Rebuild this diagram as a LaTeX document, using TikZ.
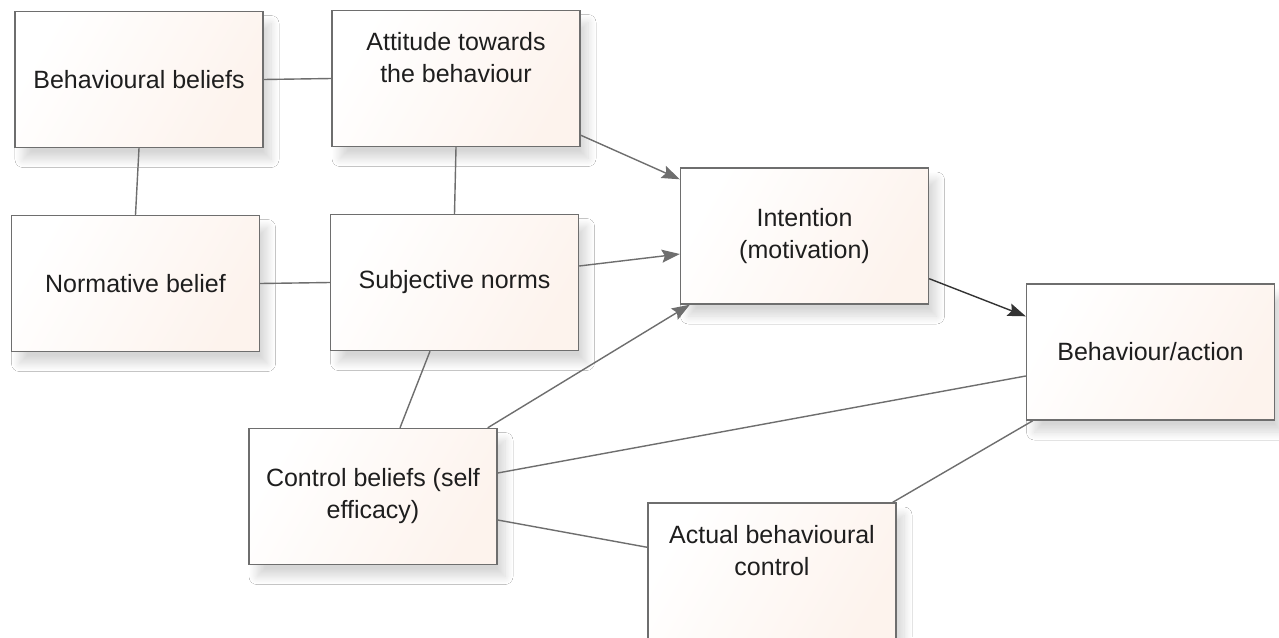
\documentclass[tikz,border=0pt]{standalone}
\usepackage{fontspec}
\setmainfont{Liberation Sans}
\usetikzlibrary{arrows.meta,shadows.blur}
\definecolor{edgegrey}{RGB}{110,110,110}
\definecolor{peach}{RGB}{253,243,237}
\definecolor{txt}{RGB}{30,30,30}
\tikzset{
  boxnode/.style={draw=edgegrey, line width=1.4pt, rectangle,
    minimum width=248pt, minimum height=136pt, inner sep=0pt,
    left color=white, right color=peach, shading angle=60,
    align=center, text=txt, font=\fontsize{25}{32}\selectfont,
    blur shadow={shadow xshift=8pt, shadow yshift=-12pt, shadow blur radius=8pt, shadow blur steps=14, shadow opacity=16}},
  link/.style={draw=edgegrey, line width=1.4pt},
  arr/.style={link, -{Stealth[length=18pt,width=13pt,inset=3pt]}},
  blackarr/.style={draw=black!80, line width=1.4pt, -{Stealth[length=18pt,width=13pt,inset=3pt]}}
}
\begin{document}
\begin{tikzpicture}[x=1pt,y=-1pt]
\clip (0,0) rectangle (1279,637);
\fill[white] (0,0) rectangle (1279,637);
\node[boxnode] (bb) at (139,79.5) {Behavioural beliefs};
\node[boxnode] (att) at (456,78.5) {Attitude towards\\the behaviour\\\strut};
\node[boxnode] (nb) at (135.5,283.5) {Normative belief};
\node[boxnode] (sn) at (454.5,282.5) {Subjective norms};
\node[boxnode] (int) at (804.5,236) {Intention\\(motivation)};
\node[boxnode] (beh) at (1150.5,352) {Behaviour/action};
\node[boxnode] (cb) at (373,496.5) {Control beliefs (self\\efficacy)};
\node[boxnode, minimum height=144pt] (abc) at (772,575) {Actual behavioural\\control\\[8pt]\strut};

\draw[link] (bb.east) -- (att.west);
\draw[link] (bb.south) -- (nb.north);
\draw[link] (att.south) -- (sn.north);
\draw[link] (nb.east) -- (sn.west);
\draw[arr] ([yshift=12pt]att.south east) -- ([yshift=-12pt]int.north west);
\draw[arr] ([yshift=16.5pt]sn.east) -- ([yshift=-18pt]int.west);
\draw[arr] ([xshift=-10pt]cb.north east) -- ([xshift=10pt]int.south west);
\draw[link] ([xshift=-24.5pt]sn.south) -- ([xshift=27pt]cb.north);
\draw[link] ([yshift=23.5pt]cb.east) -- ([yshift=-24pt]beh.west);
\draw[link] ([yshift=-23.5pt]cb.east) -- ([yshift=-45pt]abc.north west);
\draw[link] ([xshift=-4pt]abc.north east) -- ([xshift=7pt]beh.south west);
\draw[blackarr] ([yshift=26pt]int.south east) -- ([yshift=-33pt]beh.north west);
\end{tikzpicture}
\end{document}
